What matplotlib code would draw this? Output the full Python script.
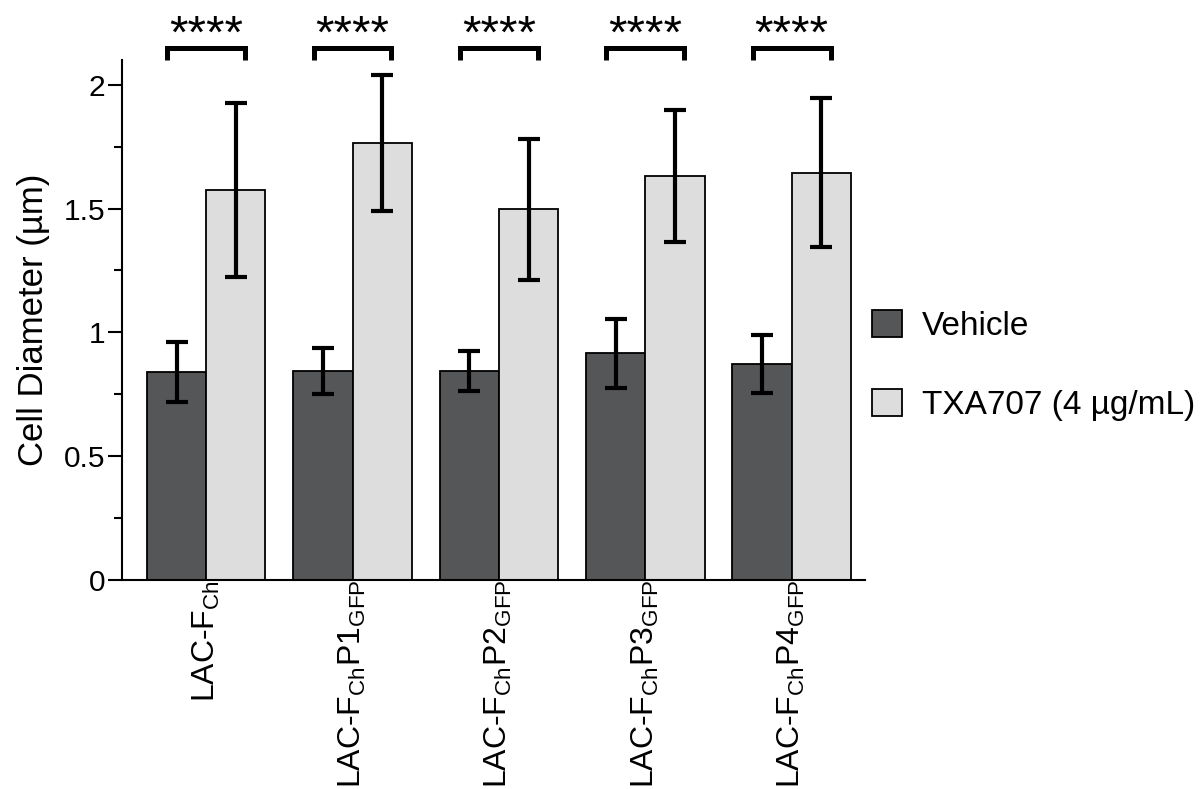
import numpy as np
import matplotlib
matplotlib.use('Agg')
import matplotlib.pyplot as plt
from matplotlib.ticker import MultipleLocator

plt.rcParams['font.family'] = ['Liberation Sans', 'DejaVu Sans']
plt.rcParams['mathtext.default'] = 'regular'

# data
strains = ['LAC-F$_{Ch}$', 'LAC-F$_{Ch}$P1$_{GFP}$', 'LAC-F$_{Ch}$P2$_{GFP}$',
           'LAC-F$_{Ch}$P3$_{GFP}$', 'LAC-F$_{Ch}$P4$_{GFP}$']
vehicle_mean = [0.84, 0.845, 0.843, 0.915, 0.872]
vehicle_err = [0.12, 0.093, 0.08, 0.14, 0.116]
txa_mean = [1.575, 1.765, 1.497, 1.63, 1.645]
txa_err = [0.35, 0.275, 0.285, 0.266, 0.30]
signif = ['****', '****', '****', '****', '****']

fig = plt.figure(figsize=(12.01, 7.89), dpi=100)
ax = fig.add_axes([0.1016, 0.265, 0.6185, 0.659])

x = np.arange(len(strains))
w = 0.405
err_kw = dict(ecolor='black', elinewidth=3, capsize=8, capthick=3)
ax.bar(x - w/2, vehicle_mean, w, yerr=vehicle_err, color='#555658',
       edgecolor='black', linewidth=1.3, error_kw=err_kw, label='Vehicle')
ax.bar(x + w/2, txa_mean, w, yerr=txa_err, color='#dcdddc',
       edgecolor='black', linewidth=1.3, error_kw=err_kw, label='TXA707 (4 µg/mL)')

# significance brackets
bw = 0.266
for i, s in enumerate(signif):
    x0, x1 = i - bw, i + bw
    ax.plot([x0, x0, x1, x1], [2.10, 2.15, 2.15, 2.10], color='black',
            lw=3.6, clip_on=False, solid_capstyle='butt', solid_joinstyle='miter')
    ax.text(i, 2.15, s, ha='center', va='baseline', fontsize=34, clip_on=False)

ax.set_xlim(-0.575, 4.5)
ax.set_ylim(0, 2.1)
ax.yaxis.set_minor_locator(MultipleLocator(0.25))
ax.set_yticks([0, 0.5, 1, 1.5, 2])
ax.set_yticklabels(['0', '0.5', '1', '1.5', '2'])
ax.set_xticks(x)
ax.set_xticklabels(strains, rotation=90, fontsize=23)
ax.tick_params(axis='x', length=0, pad=0)
ax.tick_params(axis='y', which='major', length=10, width=1.5, labelsize=21.5, pad=2)
ax.tick_params(axis='y', which='minor', length=6, width=1.5)
ax.set_ylabel('Cell Diameter (µm)', fontsize=25, labelpad=10)

for sp in ['top', 'right']:
    ax.spines[sp].set_visible(False)
for sp in ['left', 'bottom']:
    ax.spines[sp].set_linewidth(1.5)

ax.legend(loc='center left', bbox_to_anchor=(1.0, 0.413), frameon=False,
          fontsize=24, handlelength=0.9, handleheight=0.9, labelspacing=1.4,
          handletextpad=0.6, borderaxespad=0, borderpad=0.2)

fig.savefig('out.png', dpi=100)
